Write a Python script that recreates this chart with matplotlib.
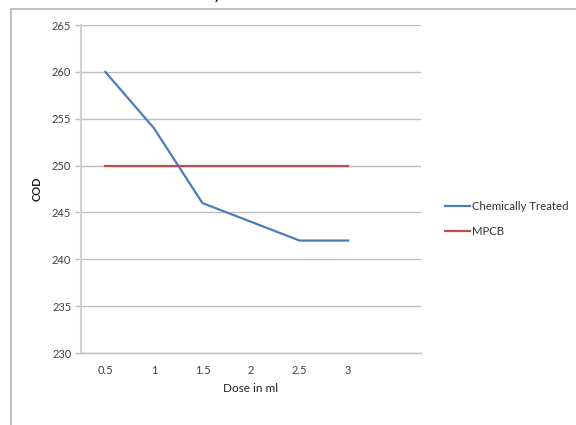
import matplotlib.pyplot as plt
from matplotlib.patches import Rectangle

doses = ["0.5", "1", "1.5", "2", "2.5", "3"]
chem_treated = [260, 254, 246, 244, 242, 242]
mpcb = [250, 250, 250, 250, 250, 250]
y_ticks = [230, 235, 240, 245, 250, 255, 260, 265]

plt.rcParams["font.family"] = ["Lato", "DejaVu Sans"]

fig = plt.figure(figsize=(5.76, 4.25), dpi=100)
# outer chart border (runs off the right/bottom edges)
fig.patches.append(Rectangle((11 / 576, -0.05), 1.0, 1 - 9 / 425 + 0.05,
                             transform=fig.transFigure, fill=False,
                             edgecolor="#b4b4b4", linewidth=1.2))
# clipped title descender at the top
fig.text(217 / 576, 1 + 1 / 425, "y", fontsize=13, ha="center", va="baseline", color="black")

ax = fig.add_axes([81 / 576, 1 - 353 / 425, 340 / 576, 328 / 425])
x = list(range(len(doses)))
ax.plot(x, chem_treated, color="#4a7ebb", linewidth=1.6, label="Chemically Treated")
ax.plot(x, mpcb, color="#be4b48", linewidth=1.6, label="MPCB")

ax.set_xlim(-0.5, len(doses) + 0.5)
ax.set_ylim(230, 265)
ax.set_yticks(y_ticks)
ax.set_yticklabels([str(v) for v in y_ticks], fontsize=8, color="#404040")
ax.set_xticks(x)
ax.set_xticklabels(doses, fontsize=8, color="#404040")
ax.tick_params(axis="x", length=0, pad=9)
ax.tick_params(axis="y", length=4, width=1, color="#bdbdbd", pad=3)
ax.grid(axis="y", color="#bdbdbd", linewidth=1)
ax.set_axisbelow(True)
for side in ("top", "right"):
    ax.spines[side].set_visible(False)
ax.spines["bottom"].set_color("#bdbdbd")
ax.spines["bottom"].set_linewidth(1)
ax.spines["left"].set_color("#d0d0d0")
ax.spines["left"].set_linewidth(1.5)

ax.set_xlabel("Dose in ml", fontsize=8.5, labelpad=5, color="#202020")
ax.set_ylabel("COD", fontsize=8, fontweight="bold", labelpad=7, color="#202020")

fig.legend(loc="center left", bbox_to_anchor=(439 / 576, 1 - 219 / 425), frameon=False,
           fontsize=8.2, handlelength=2.2, handletextpad=0.2, labelspacing=1.25,
           borderpad=0, labelcolor="#303030")

fig.savefig("out.png", dpi=100)
